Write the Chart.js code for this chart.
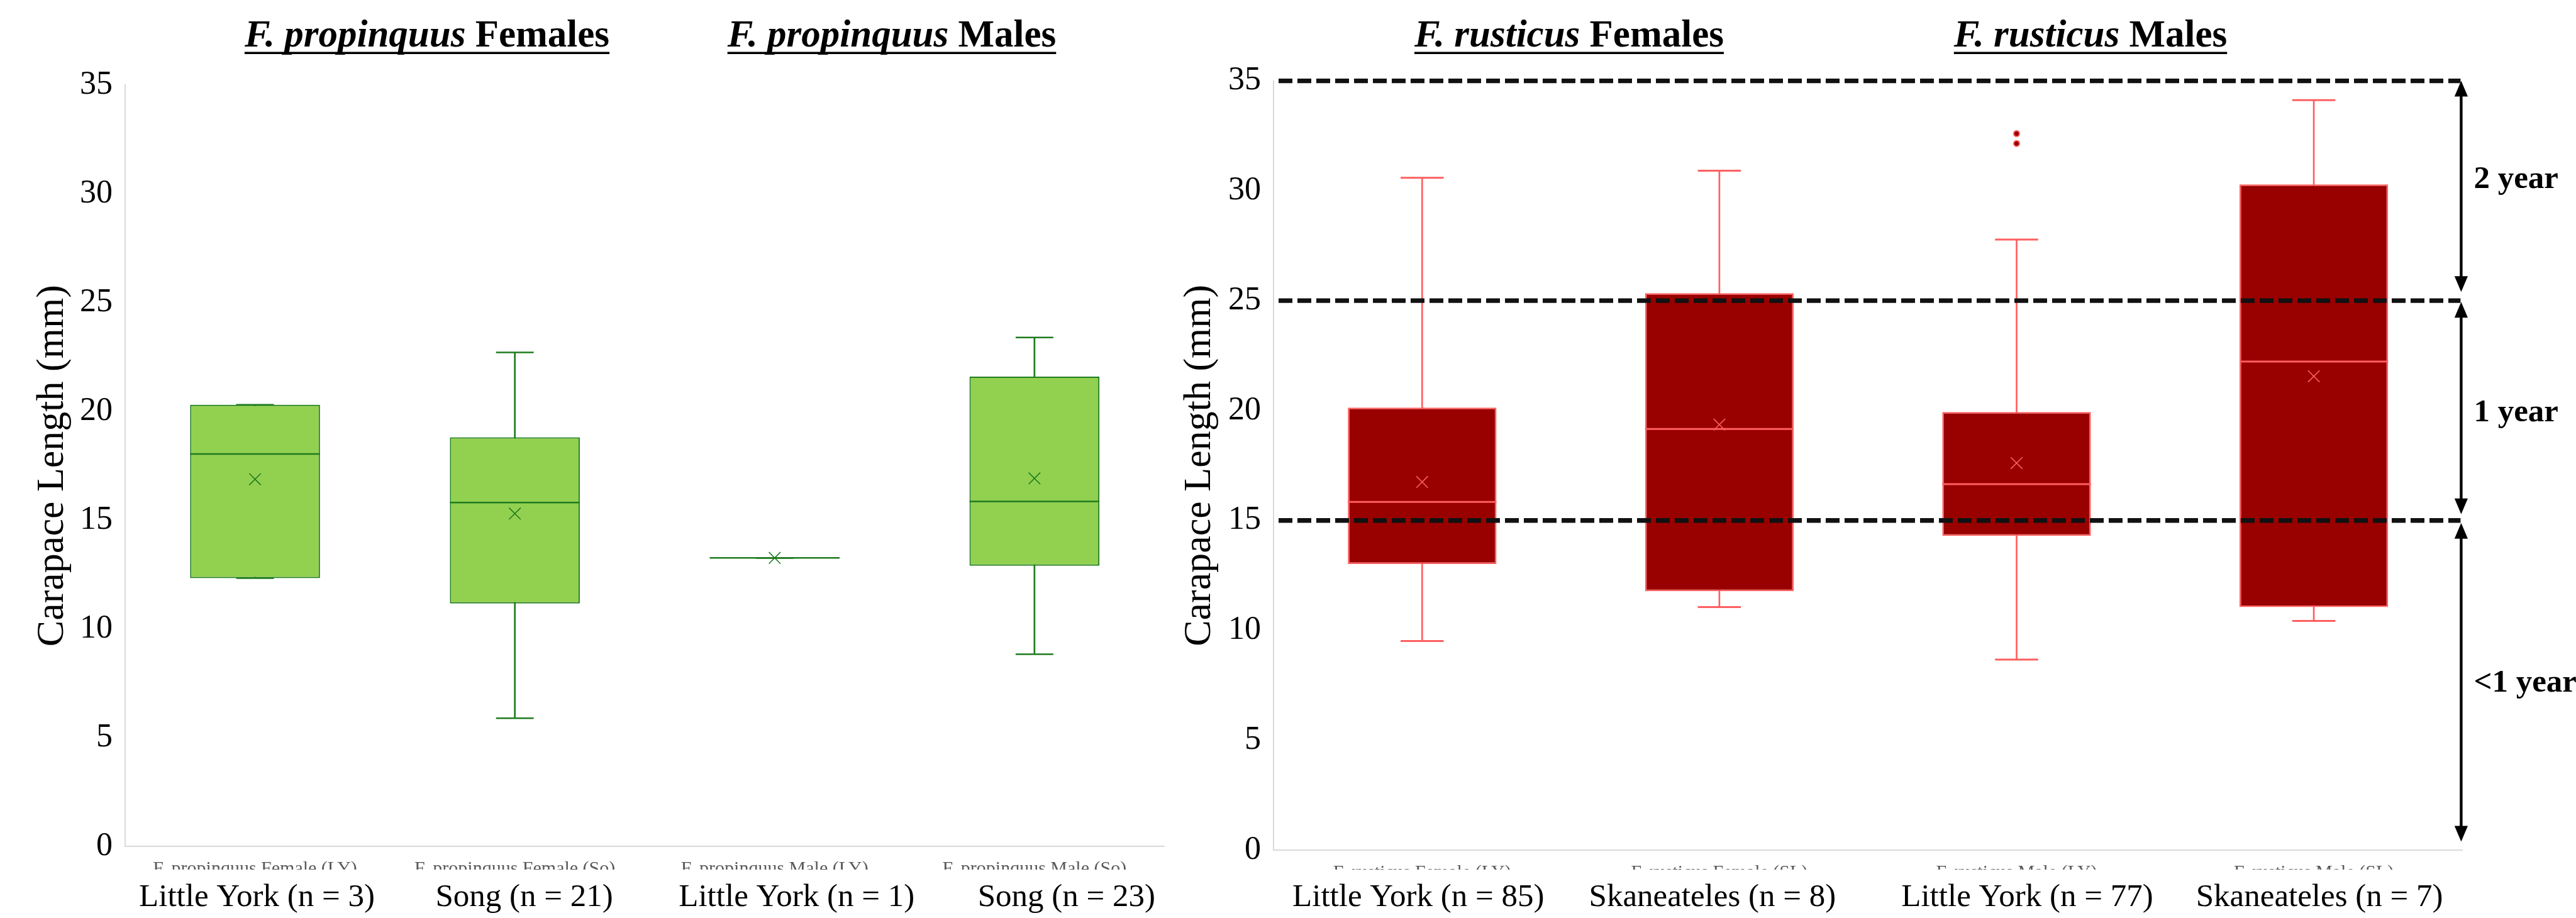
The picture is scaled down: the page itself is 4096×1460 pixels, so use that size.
<!DOCTYPE html>
<html lang="en">
<head>
  <meta charset="UTF-8" />
  <title>Carapace Length by Site</title>
  <script src="https://cdn.jsdelivr.net/npm/chart.js"></script>
  <style>
    html, body {
      margin: 0;
      padding: 0;
      background: #fff;
    }
    body {
      width: 4096px;
      height: 1460px;
      position: relative;
      overflow: hidden;
    }
    canvas {
      position: absolute;
      top: 0;
    }
    #leftChart { left: 0; }
    #rightChart { left: 1866px; }
  </style>
</head>
<body>

  <canvas id="leftChart" width="1866" height="1460"></canvas>
  <canvas id="rightChart" width="2230" height="1460"></canvas>

  <script>
    const SERIF = "'Liberation Serif', 'Times New Roman', serif";

    // F. propinquus (left panel)
    const propLabels = ["F. propinquus Female (LY)", "F. propinquus Female (So)", "F. propinquus Male (LY)", "F. propinquus Male (So)"];
    const propSites = ["Little York (n = 3)", "Song (n = 21)", "Little York (n = 1)", "Song (n = 23)"];
    const propTitles = [["F. propinquus", " Females"], ["F. propinquus", " Males"]];
    const propMin = [12.33, 5.89, 13.26, 8.83];
    const propQ1 = [12.33, 11.17, 13.26, 12.90];
    const propMedian = [18.04, 15.81, 13.26, 15.86];
    const propQ3 = [20.30, 18.81, 13.26, 21.60];
    const propMax = [20.30, 22.71, 13.26, 23.40];
    const propMean = [16.88, 15.30, 13.26, 16.92];

    // F. rusticus (right panel)
    const rustLabels = ["F. rusticus Female (LY)", "F. rusticus Female (SL)", "F. rusticus Male (LY)", "F. rusticus Male (SL)"];
    const rustSites = ["Little York (n = 85)", "Skaneateles (n = 8)", "Little York (n = 77)", "Skaneateles (n = 7)"];
    const rustTitles = [["F. rusticus", " Females"], ["F. rusticus", " Males"]];
    const rustMin = [9.51, 11.06, 8.67, 10.43];
    const rustQ1 = [13.02, 11.78, 14.30, 11.06];
    const rustMedian = [15.84, 19.16, 16.65, 22.23];
    const rustQ3 = [20.13, 25.34, 19.93, 30.29];
    const rustMax = [30.59, 30.91, 27.78, 34.12];
    const rustMean = [16.75, 19.36, 17.61, 21.56];
    const rustOutliers = [[], [], [32.6, 32.15], []];

    // age classes marked on the F. rusticus panel
    const ageBreaks = [35, 25, 15];
    const ageNames = ["2 year", "1 year", "<1 year"];
    const ageNameAt = [30.5, 19.9, 7.6];

    const halfBox = c => {
      const a = c.chart.chartArea;
      return a ? (a.right - a.left) / 16 : 0;
    };
    const halfCap = c => halfBox(c) * 0.29;

    function points(data, style, radius, color, width, fill) {
      return {
        type: "line",
        data: data,
        showLine: false,
        pointStyle: style,
        pointRadius: radius,
        pointHoverRadius: radius,
        pointBorderColor: color,
        pointBackgroundColor: fill || color,
        pointBorderWidth: width,
        order: 1,
      };
    }

    function drawTitle(ctx, cx, base, parts) {
      const fi = "italic bold 61px " + SERIF;
      const fb = "bold 61px " + SERIF;
      ctx.font = fi;
      const w1 = ctx.measureText(parts[0]).width;
      ctx.font = fb;
      const w2 = ctx.measureText(parts[1]).width;
      const x0 = cx - (w1 + w2) / 2;
      ctx.fillStyle = "#000";
      ctx.textAlign = "left";
      ctx.textBaseline = "alphabetic";
      ctx.font = fi;
      ctx.fillText(parts[0], x0, base);
      ctx.font = fb;
      ctx.fillText(parts[1], x0 + w1, base);
      ctx.fillRect(x0, base + 9, w1 + w2, 3.5);
    }

    function drawArrow(ctx, x, y1, y2) {
      const head = 25, hw = 10.6;
      ctx.beginPath();
      ctx.moveTo(x, y1 + head - 2);
      ctx.lineTo(x, y2 - head + 2);
      ctx.stroke();
      ctx.beginPath();
      ctx.moveTo(x, y1);
      ctx.lineTo(x - hw, y1 + head);
      ctx.lineTo(x + hw, y1 + head);
      ctx.closePath();
      ctx.moveTo(x, y2);
      ctx.lineTo(x - hw, y2 - head);
      ctx.lineTo(x + hw, y2 - head);
      ctx.closePath();
      ctx.fill();
    }

    const decor = {
      id: "decor",
      afterDraw(chart, args, o) {
        const { ctx, chartArea: a, scales: { x, y } } = chart;
        ctx.save();

        // site text boxes sit over the lower half of the category names
        ctx.fillStyle = "#fff";
        ctx.fillRect(a.left + 2, 1383, chart.width - a.left, chart.height - 1383);
        ctx.fillStyle = "#000";
        ctx.font = "51px " + SERIF;
        ctx.textAlign = "center";
        ctx.textBaseline = "alphabetic";
        o.sites.forEach((s, i) => {
          ctx.fillText(s, x.getPixelForValue(i) + o.siteShift[i], 1441);
        });

        drawTitle(ctx, o.titleX[0], 73.5, o.titles[0]);
        drawTitle(ctx, o.titleX[1], 73.5, o.titles[1]);

        if (o.ages) {
          ctx.strokeStyle = "#111";
          ctx.lineWidth = 7.4;
          ctx.setLineDash([22, 8]);
          ageBreaks.forEach(v => {
            const py = y.getPixelForValue(v);
            ctx.beginPath();
            ctx.moveTo(a.left + 8, py);
            ctx.lineTo(a.right - 3, py);
            ctx.stroke();
          });
          ctx.setLineDash([]);

          const ax = a.right - 2;
          ctx.strokeStyle = "#000";
          ctx.fillStyle = "#000";
          ctx.lineWidth = 4.4;
          drawArrow(ctx, ax, y.getPixelForValue(35), y.getPixelForValue(25) - 14);
          drawArrow(ctx, ax, y.getPixelForValue(25) + 2, y.getPixelForValue(15) - 10);
          drawArrow(ctx, ax, y.getPixelForValue(15) + 4, a.bottom - 13.5);

          ctx.font = "bold 51px " + SERIF;
          ctx.textAlign = "left";
          ctx.textBaseline = "middle";
          ageNames.forEach((t, i) => {
            ctx.fillText(t, a.right + 18, y.getPixelForValue(ageNameAt[i]));
          });
        }
        ctx.restore();
      },
    };

    function boxChart(id, d) {
      const datasets = [
        {
          type: "bar",
          data: d.min.map((v, i) => [v, d.max[i]]),
          backgroundColor: d.line,
          barThickness: 2,
          grouped: false,
          order: 3,
        },
        {
          type: "bar",
          data: d.q1.map((v, i) => [v, d.q3[i]]),
          backgroundColor: d.fill,
          borderColor: d.line,
          borderWidth: d.bw,
          borderSkipped: false,
          barPercentage: 0.5,
          categoryPercentage: 1,
          grouped: false,
          order: 2,
        },
        points(d.median, "line", halfBox, d.line, d.bw + 0.5),
        points(d.min, "line", halfCap, d.line, d.bw + 0.5),
        points(d.max, "line", halfCap, d.line, d.bw + 0.5),
        points(d.mean, "crossRot", 13, d.mark, 1.6),
      ];
      if (d.outliers) {
        const pts = [];
        d.outliers.forEach((list, i) => list.forEach(v => pts.push({ x: d.labels[i], y: v })));
        datasets.push(points(pts, "circle", 4.5, d.line, 2, d.fill));
      }

      return new Chart(document.getElementById(id), {
        type: "bar",
        data: { labels: d.labels, datasets: datasets },
        plugins: [decor],
        options: {
          responsive: false,
          animation: false,
          devicePixelRatio: 1,
          layout: { padding: { left: 0, right: d.padRight, top: d.padTop, bottom: 0 } },
          plugins: {
            legend: { display: false },
            tooltip: { enabled: false },
            decor: { sites: d.sites, siteShift: d.siteShift, titles: d.titles, titleX: d.titleX, ages: d.ages },
          },
          scales: {
            x: {
              offset: true,
              grid: { display: false, drawTicks: false },
              border: { display: true, color: "#d9d9d9", width: 2 },
              ticks: {
                font: { family: SERIF, size: 30 },
                color: "#595959",
                padding: 18,
                minRotation: 0,
                maxRotation: 0,
                autoSkip: false,
              },
              afterFit: s => { s.height = d.xHeight; },
            },
            y: {
              min: 0,
              max: 35,
              grid: { display: false, drawTicks: false },
              border: { display: true, color: "#d9d9d9", width: 2 },
              ticks: { stepSize: 5, font: { family: SERIF, size: 52 }, color: "#000", padding: 20 },
              title: {
                display: true,
                text: "Carapace Length (mm)",
                font: { family: SERIF, size: 62 },
                color: "#000",
                padding: { top: d.titlePad, bottom: 0 },
              },
              afterFit: s => { s.width = d.yWidth; },
            },
          },
        },
      });
    }

    boxChart("leftChart", {
      labels: propLabels, sites: propSites, titles: propTitles,
      min: propMin, q1: propQ1, median: propMedian, q3: propQ3, max: propMax, mean: propMean,
      fill: "#92d050", line: "#1e7b1e", mark: "#1e7b1e", bw: 2,
      yWidth: 199, xHeight: 114, padTop: 135.4, padRight: 4.5, titlePad: 47,
      titleX: [679, 1418], siteShift: [3, 15, 35, 51], ages: false,
    });

    boxChart("rightChart", {
      labels: rustLabels, sites: rustSites, titles: rustTitles,
      min: rustMin, q1: rustQ1, median: rustMedian, q3: rustQ3, max: rustMax, mean: rustMean,
      outliers: rustOutliers,
      fill: "#990000", line: "#ff5f5f", mark: "#ff5f5f", bw: 2.5,
      yWidth: 159, xHeight: 108, padTop: 128.6, padRight: 180.6, titlePad: 5,
      titleX: [629, 1458], siteShift: [-6, -11, 17, 9], ages: true,
    });
  </script>
</body>
</html>
